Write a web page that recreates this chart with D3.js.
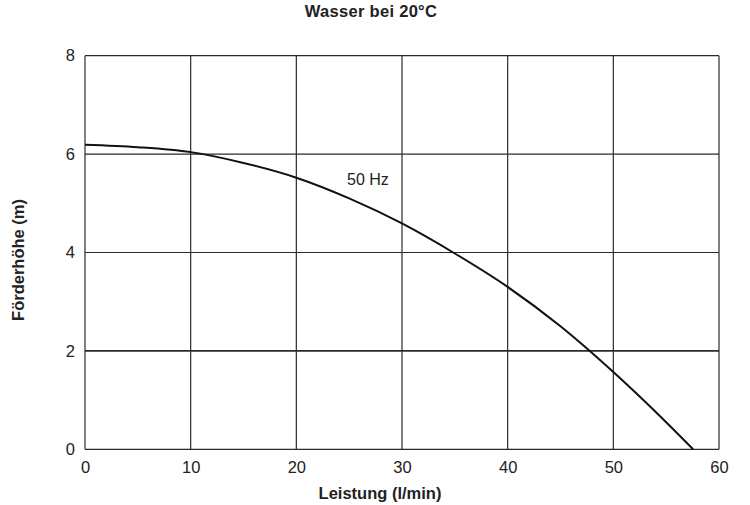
<!DOCTYPE html>
<html><head><meta charset="utf-8">
<script src="https://cdn.jsdelivr.net/npm/d3@7"></script>
<style>body{margin:0;background:#fff;} text{font-family:Arial,"Liberation Sans",Helvetica,sans-serif;fill:#222;}</style>
</head><body>
<svg id="c" width="750" height="505"></svg>
<script>
const flow = [0, 5, 10, 15, 20, 25, 30, 35, 40, 45, 50, 55, 57.55];
const head = [6.19, 6.14, 6.04, 5.82, 5.52, 5.1, 4.59, 3.98, 3.3, 2.5, 1.57, 0.55, 0];
const xTicks = [0, 10, 20, 30, 40, 50, 60];
const yTicks = [0, 2, 4, 6, 8];
const title = "Wasser bei 20°C";
const xLabel = "Leistung (l/min)";
const yLabel = "Förderhöhe (m)";
const curveLabel = "50 Hz";

const svg = d3.select("#c");
const m = {l: 85, r: 719, t: 55.7, b: 449.3};
const x = d3.scaleLinear().domain([0, 60]).range([m.l, m.r]);
const y = d3.scaleLinear().domain([0, 8]).range([m.b, m.t]);

const g = svg.append("g");
g.selectAll("line.vx").data(xTicks).enter().append("line")
  .attr("x1", d => x(d)).attr("x2", d => x(d)).attr("y1", y(0)).attr("y2", y(8))
  .attr("stroke", "#2a2a2a").attr("stroke-width", 1.2);
g.selectAll("line.hy").data(yTicks).enter().append("line")
  .attr("y1", d => y(d)).attr("y2", d => y(d)).attr("x1", x(0)).attr("x2", x(60))
  .attr("stroke", "#2a2a2a").attr("stroke-width", d => d === 2 ? 1.6 : 1.2);

const xa = svg.append("g").attr("transform", `translate(0,${m.b})`)
  .call(d3.axisBottom(x).tickValues(xTicks).tickSize(0).tickPadding(12));
const ya = svg.append("g").attr("transform", `translate(${m.l},0)`)
  .call(d3.axisLeft(y).tickValues(yTicks).tickSize(0).tickPadding(10));
[xa, ya].forEach(a => {
  a.select(".domain").remove();
  a.selectAll("text").attr("font-size", 16.5).attr("fill", "#222")
    .attr("font-family", "Arial, 'Liberation Sans', sans-serif");
});

const pts = flow.map((f, i) => [f, head[i]]);
svg.append("path").datum(pts)
  .attr("d", d3.line().x(d => x(d[0])).y(d => y(d[1])).curve(d3.curveMonotoneX))
  .attr("fill", "none").attr("stroke", "#111").attr("stroke-width", 2);

svg.append("text").attr("x", x(24.8)).attr("y", y(5.37)).attr("font-size", 16).text(curveLabel);

svg.append("text").attr("x", 371).attr("y", 17).attr("text-anchor", "middle")
  .attr("font-size", 16.5).attr("font-weight", "bold").attr("letter-spacing", 0.3).text(title);
svg.append("text").attr("x", 380).attr("y", 499).attr("text-anchor", "middle")
  .attr("font-size", 16.5).attr("font-weight", "bold").text(xLabel);
svg.append("text").attr("transform", "translate(24,260) rotate(-90)").attr("text-anchor", "middle")
  .attr("font-size", 16.5).attr("font-weight", "bold").text(yLabel);
</script>
</body></html>
